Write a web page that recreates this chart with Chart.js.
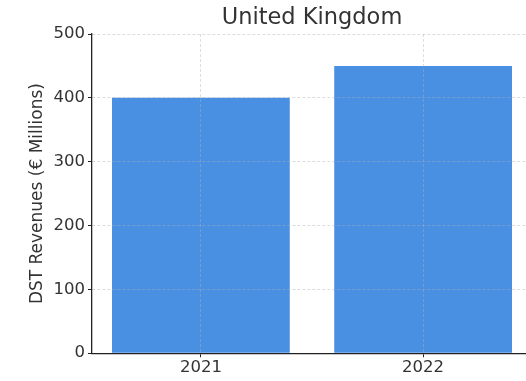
<!DOCTYPE html>
<html>
<head>
<meta charset="utf-8">
<script src="https://cdn.jsdelivr.net/npm/chart.js@4.4.0/dist/chart.umd.min.js"></script>
<style>
html,body{margin:0;padding:0;overflow:hidden;background:#fff;}
#wrap{width:532px;height:381px;position:relative;}
</style>
</head>
<body>
<div id="wrap"><canvas id="c" width="532" height="381"></canvas></div>
<script>
const categories = ["2021", "2022"];
const revenues = [400, 450];
const yTicks = [0, 100, 200, 300, 400, 500];
const chartTitle = "United Kingdom";
const yAxisTitle = "DST Revenues (€ Millions)";

const font = "'DejaVu Sans', sans-serif";
const gridColor = 'rgba(176,176,176,0.55)';
new Chart(document.getElementById('c'), {
  type: 'bar',
  data: {
    labels: categories,
    datasets: [{
      data: revenues,
      backgroundColor: '#4a90e2',
      borderWidth: 0,
      barPercentage: 0.8,
      categoryPercentage: 1.0
    }]
  },
  options: {
    responsive: false,
    animation: false,
    devicePixelRatio: 1,
    layout: { padding: { top: 3, right: 0, bottom: 2, left: 0 } },
    plugins: {
      legend: { display: false },
      tooltip: { enabled: false },
      title: {
        display: true,
        fullSize: false,
        text: chartTitle,
        color: '#333',
        font: { family: font, size: 22.5, weight: 'normal' },
        padding: { top: 2, bottom: 2 }
      }
    },
    scales: {
      x: {
        offset: true,
        afterFit: (s) => { s._startValue = -0.49; s._valueRange = 1.98; },
        grid: {
          offset: false,
          color: gridColor,
          lineWidth: 0.8,
          tickColor: '#222',
          tickLength: 4,
          tickWidth: 1,
          z: 1
        },
        border: { display: true, color: '#222', width: 1.3, dash: [3, 2], z: 2 },
        ticks: { color: '#333', font: { family: font, size: 16.5 }, padding: 1 }
      },
      y: {
        min: 0,
        max: 500,
        afterBuildTicks: (s) => { s.ticks = yTicks.map(v => ({ value: v })); },
        afterFit: (s) => { s.width = 92; },
        grid: {
          color: gridColor,
          lineWidth: 0.8,
          tickColor: '#222',
          tickLength: 4,
          tickWidth: 1,
          z: 1
        },
        border: { display: true, color: '#222', width: 1.3, dash: [3, 2], z: 2 },
        ticks: { color: '#333', font: { family: font, size: 16.5 }, padding: 3 },
        title: {
          display: true,
          text: yAxisTitle,
          color: '#333',
          font: { family: font, size: 17 },
          padding: { top: 27, bottom: 0 }
        }
      }
    }
  }
});
</script>
</body>
</html>
